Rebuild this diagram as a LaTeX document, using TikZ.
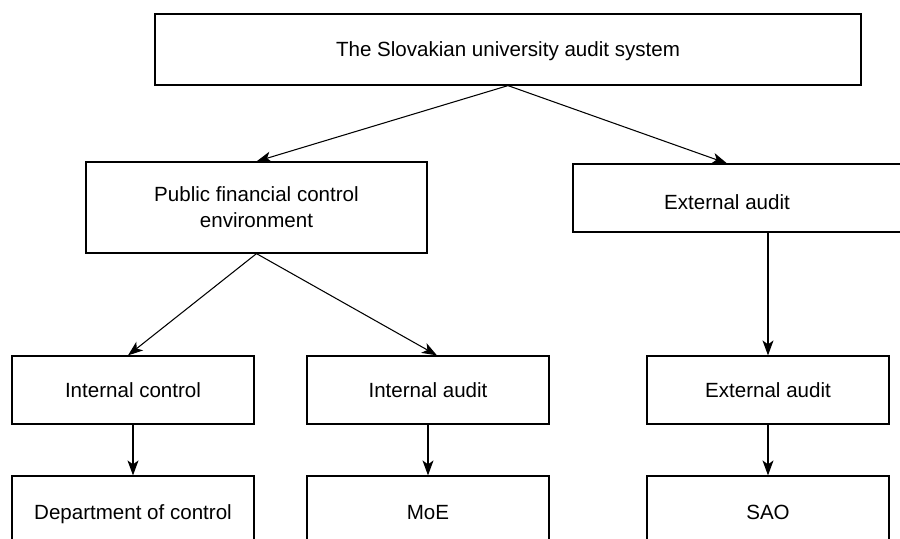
\documentclass[tikz,border=0pt]{standalone}
\usepackage{fontspec}
\setmainfont{Liberation Sans}
\usetikzlibrary{arrows.meta}
\begin{document}
\begin{tikzpicture}[x=0.02cm,y=-0.02cm,line width=0.6pt,>={Stealth[length=3mm,width=2.2mm,inset=0.8mm]},font=\fontsize{11.7}{14.8}\selectfont]
\tikzstyle{box}=[draw, rectangle, inner sep=0pt, align=center, text depth=0pt, line width=0.7pt]
\tikzstyle{small}=[box, minimum width=4.84cm, minimum height=1.36cm]
\useasboundingbox (0,0) rectangle (900,538);

\node[box, minimum width=14.12cm, minimum height=1.42cm] (sys) at (508,49.5) {The Slovakian university audit system};
\node[box, minimum width=6.82cm, minimum height=1.82cm] (pfc) at (256.5,207.5) {Public financial control\\environment};
\node[box, minimum width=6.64cm, minimum height=1.36cm, label={[name=extT,xshift=-0.24cm,yshift=-0.08cm]center:External audit}] (ext) at (739,198) {};

\node[small] (ic) at (133,390) {Internal control};
\node[small] (ia) at (428,390) {Internal audit};
\node[small] (ext2) at (768,390) {External audit};

\node[small, minimum height=1.44cm] (doc) at (133,512) {Department of control};
\node[small, minimum height=1.44cm] (moe) at (428,512) {MoE};
\node[small, minimum height=1.44cm] (sao) at (768,512) {SAO};

\draw[->] (sys.south) -- (pfc.north);
\draw[->] (sys.south) -- (extT.north |- ext.north);
\draw[->] (pfc.south) -- ([xshift=-0.1cm]ic.north);
\draw[->] (pfc.south) -- ([xshift=0.18cm]ia.north);
\draw[->] (ext2.north |- ext.south) -- (ext2.north);
\draw[->] (ic.south) -- (doc.north);
\draw[->] (ia.south) -- (moe.north);
\draw[->] (ext2.south) -- (sao.north);
\end{tikzpicture}
\end{document}
